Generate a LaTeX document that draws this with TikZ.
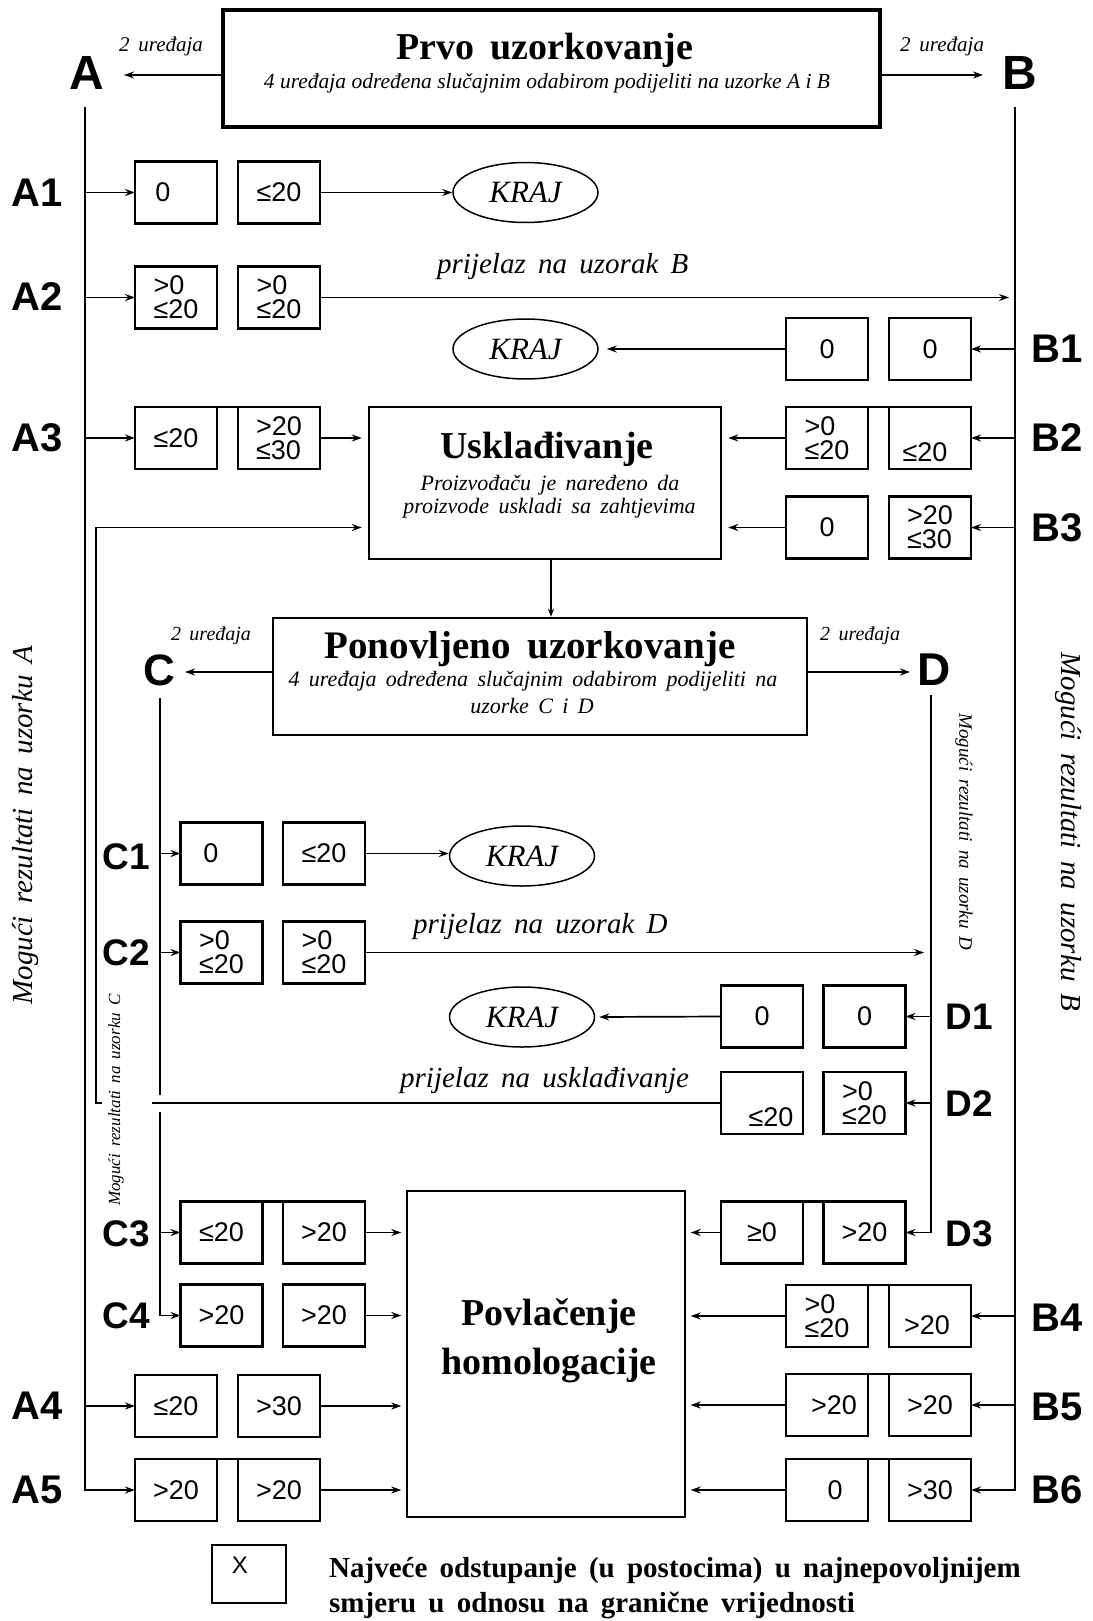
\documentclass[tikz,border=0pt]{standalone}
\usepackage{fontspec}
\setmainfont{Liberation Serif}[WordSpace=1.7]
\newfontfamily\plainserif{Liberation Serif}
\setsansfont{Liberation Sans}
\usetikzlibrary{arrows.meta,shapes.geometric}

\begin{document}
\begin{tikzpicture}[x=1pt,y=-1pt,
  arr/.style={-{Stealth[length=10pt,width=7pt]}, line width=1.7pt},
  ln/.style={line width=1.8pt},
  val/.style={draw, line width=2.3pt, minimum width=82pt, minimum height=62pt, inner sep=0pt, outer sep=0pt,
    font=\fontsize{27}{24}\selectfont\sffamily, align=left},
  num/.style={inner sep=0pt, font=\fontsize{27}{24}\selectfont\sffamily},
  lbl/.style={inner sep=0pt, font=\fontsize{40}{40}\selectfont\sffamily\bfseries},
  clbl/.style={inner sep=0pt, font=\fontsize{37}{37}\selectfont\sffamily\bfseries},
  big/.style={inner sep=0pt, font=\fontsize{48}{48}\selectfont\sffamily\bfseries},
  kraj/.style={draw, ellipse, line width=1.5pt, minimum width=145pt, minimum height=60pt,
    inner sep=0pt, font=\fontsize{31}{31}\selectfont\itshape},
  ttl/.style={inner sep=0pt, anchor=base, font=\fontsize{38}{38}\selectfont\bfseries},
  sub/.style={inner sep=0pt, anchor=base, font=\fontsize{22}{22}\selectfont\itshape},
  dev/.style={inner sep=0pt, anchor=base, font=\fontsize{21}{21}\selectfont\itshape},
  pass/.style={inner sep=0pt, anchor=base west, font=\fontsize{29}{29}\selectfont\itshape},
  side/.style={inner sep=0pt, font=\fontsize{29}{29}\selectfont\itshape},
  legtext/.style={inner sep=0pt, anchor=base west, font=\fontsize{29}{29}\selectfont\bfseries},
  bridge/.style={line width=2.3pt}
]
\fill[white] (0,0) rectangle (1092,1621);
\useasboundingbox (0,0) rectangle (1092,1621);

% ---------- first sampling ----------
\node[draw, line width=4pt, minimum width=657pt, minimum height=117pt, inner sep=0pt] (prvo) at (551.5,68.5) {};
\node[ttl] (prvoT) at (545,60) {Prvo uzorkovanje};
\node[sub, font=\fontsize{21.5}{22}\selectfont\plainserif\itshape] (prvoS) at (547,89) {4 uređaja određena slučajnim odabirom podijeliti na uzorke A i B};

\node[big] (Alab) at (87,73) {A};
\node[big] (Blab) at (1020,73) {B};
\coordinate (pA) at (124,75);
\coordinate (pB) at (983,75);
\draw[arr] (prvo.west |- pA) -- (pA);
\draw[arr] (prvo.east |- pB) -- (pB);
\node[dev] (devA) at (161,52) {2 uređaja};
\node[dev] (devB) at (942,52) {2 uređaja};

\coordinate (Atop) at (85,107);
\coordinate (Btop) at (1015,107);

% ---------- sample A results ----------
\node[val] (A1a) at (176,192.5) {};
\node[num] (A1at) at (163,192.5) {0};
\node[val] (A1b) at (279,192.5) {≤20};
\node[val] (A2a) at (176,297.5) {>0\\≤20};
\node[val] (A2b) at (279,297.5) {>0\\≤20};
\node[val] (A3a) at (176,438) {≤20};
\node[val] (A3b) at (279,438) {>20\\≤30};
\node[val] (A4a) at (176,1406) {≤20};
\node[val] (A4b) at (279,1406) {>30};
\node[val] (A5a) at (176,1490) {>20};
\node[val] (A5b) at (279,1490) {>20};

\node[lbl] (A1l) at (37,193) {A1};
\node[lbl] (A2l) at (37,297) {A2};
\node[lbl] (A3l) at (37,438) {A3};
\node[lbl] (A4l) at (37,1406) {A4};
\node[lbl] (A5l) at (37,1490) {A5};

% ---------- sample B results ----------
\node[val] (B1a) at (827,349) {0};
\node[val] (B1b) at (930,349) {0};
\node[val] (B2a) at (827,438) {>0\\≤20};
\node[val] (B2b) at (930,438) {};
\node[num] (B2bt) at (925,452) {≤20};
\node[val] (B3a) at (827,527.5) {0};
\node[val] (B3b) at (930,527.5) {>20\\≤30};
\node[val] (B4a) at (827,1316) {>0\\≤20};
\node[val] (B4b) at (930,1316) {};
\node[num] (B4bt) at (927,1325) {>20};
\node[val] (B5a) at (827,1405) {};
\node[num] (B5at) at (834,1405) {>20};
\node[val] (B5b) at (930,1405) {>20};
\node[val] (B6a) at (827,1490) {};
\node[num] (B6at) at (835,1490) {0};
\node[val] (B6b) at (930,1490) {>30};

\node[lbl] (B1l) at (1057,349) {B1};
\node[lbl] (B2l) at (1057,438) {B2};
\node[lbl] (B3l) at (1057,528) {B3};
\node[lbl] (B4l) at (1057,1318) {B4};
\node[lbl] (B5l) at (1057,1407) {B5};
\node[lbl] (B6l) at (1057,1490) {B6};

% ---------- end states ----------
\node[kraj] (k1) at (525.5,192.5) {KRAJ};
\node[kraj] (k2) at (525.5,349) {KRAJ};
\node[kraj] (k3) at (522,856) {KRAJ};
\node[kraj] (k4) at (522,1017) {KRAJ};

% ---------- adjustment ----------
\node[draw, line width=2.5pt, minimum width=352pt, minimum height=152pt, inner sep=0pt] (uskl) at (545,483) {};
\node[ttl] (usklT) at (547,458) {Usklađivanje};
\node[sub] (usklS1) at (550,490) {Proizvođaču je naređeno da};
\node[sub] (usklS2) at (549.5,513) {proizvode uskladi sa zahtjevima};

% ---------- repeated sampling ----------
\node[draw, line width=2.5pt, minimum width=534pt, minimum height=117pt, inner sep=0pt] (pon) at (540,676.5) {};
\node[ttl, font=\fontsize{39}{39}\selectfont\bfseries] (ponT) at (530,658) {Ponovljeno uzorkovanje};
\node[sub] (ponS1) at (533,686) {4 uređaja određena slučajnim odabirom podijeliti na};
\node[sub] (ponS2) at (532,713) {uzorke C i D};

\node[big, font=\fontsize{44}{44}\selectfont\sffamily\bfseries] (Clab) at (159,670) {C};
\node[big, font=\fontsize{46}{46}\selectfont\sffamily\bfseries] (Dlab) at (934,670) {D};
\coordinate (pC) at (185,672);
\coordinate (pD) at (910,672);
\draw[arr] (pon.west |- pC) -- (pC);
\draw[arr] (pon.east |- pD) -- (pD);
\node[dev, font=\fontsize{20}{20}\selectfont\itshape] (devC) at (211,640) {2 uređaja};
\node[dev, font=\fontsize{20}{20}\selectfont\itshape] (devD) at (860,640) {2 uređaja};

\coordinate (Ctop) at (160,698);
\coordinate (Dtop) at (931,695);

% ---------- sample C results ----------
\node[val] (C1a) at (221.5,853.5) {};
\node[num] (C1at) at (211,853.5) {0};
\node[val] (C1b) at (324,853.5) {≤20};
\node[val] (C2a) at (221.5,952.5) {>0\\≤20};
\node[val] (C2b) at (324,952.5) {>0\\≤20};
\node[val] (C3a) at (221.5,1232.5) {≤20};
\node[val] (C3b) at (324,1232.5) {>20};
\node[val] (C4a) at (221.5,1315.5) {>20};
\node[val] (C4b) at (324,1315.5) {>20};

\node[clbl] (C1l) at (126,857) {C1};
\node[clbl] (C2l) at (126,953) {C2};
\node[clbl] (C3l) at (126,1234) {C3};
\node[clbl] (C4l) at (126,1316) {C4};

% ---------- sample D results ----------
\node[val] (D1a) at (762,1016.5) {0};
\node[val] (D1b) at (864.5,1016.5) {0};
\node[val] (D2a) at (762,1103) {};
\node[num] (D2at) at (771,1117) {≤20};
\node[val] (D2b) at (864.5,1103) {>0\\≤20};
\node[val] (D3a) at (762,1232.5) {≥0};
\node[val] (D3b) at (864.5,1232.5) {>20};

\node[clbl] (D1l) at (969,1017) {D1};
\node[clbl] (D2l) at (969,1104) {D2};
\node[clbl] (D3l) at (969,1234) {D3};

% ---------- withdrawal ----------
\node[draw, line width=1.3pt, minimum width=278pt, minimum height=326pt, inner sep=0pt] (povl) at (546,1354) {};
\node[ttl] (povlT1) at (549,1325) {Povlačenje};
\node[ttl] (povlT2) at (549,1374) {homologacije};

% ---------- joined tops of some box pairs ----------
\foreach \r in {A3,A5,B2,B4,B5,B6,C3,D3}
  \draw[bridge] (\r a.north east) -- (\r b.north west);

% ---------- trunk lines and branches ----------
\draw[arr] (Atop) |- (A5a.west);
\foreach \r in {A1,A2,A3,A4}
  \draw[arr] (Atop |- \r a.west) -- (\r a.west);

\draw[arr] (Btop) |- (B6b.east);
\foreach \r in {B1,B2,B3,B4,B5}
  \draw[arr] (Btop |- \r b.east) -- (\r b.east);

\coordinate (Cgap1) at (160,1095);
\coordinate (Cgap2) at (160,1112);
\draw[ln] (Ctop) -- (Cgap1);
\draw[arr] (Cgap2) |- (C4a.west);
\foreach \r in {C1,C2,C3}
  \draw[arr] (Ctop |- \r a.west) -- (\r a.west);

\draw[arr] (Dtop) |- (D3b.east);
\foreach \r in {D1,D2}
  \draw[arr] (Dtop |- \r b.east) -- (\r b.east);

% ---------- outcome connectors ----------
\draw[arr] (A1b.east) -- (k1.west);
\draw[arr, shorten >=6pt] (A2b.east) -- (Btop |- A2b.east);
\node[pass] (passB) at (437,273) {prijelaz na uzorak B};
\draw[arr, shorten >=8pt] (B1a.west) -- (k2.east);
\draw[arr, shorten >=6pt] (A3b.east) -- (uskl.west |- A3b.east);
\draw[arr, shorten >=6pt] (B2a.west) -- (uskl.east |- B2a.west);
\draw[arr, shorten >=6pt] (B3a.west) -- (uskl.east |- B3a.west);
\draw[arr, line width=1.2pt, -{Stealth[length=8pt,width=6pt]}] ([xshift=6pt]uskl.south) -- ([xshift=6pt]uskl.south |- pon.north);

\draw[arr] (C1b.east) -- (k3.west |- C1b.east);
\draw[arr, shorten >=7pt] (C2b.east) -- (Dtop |- C2b.east);
\node[pass] (passD) at (413,933) {prijelaz na uzorak D};
\draw[arr, shorten >=4pt] (D1a.west) -- (k4.east);

% back to adjustment
\coordinate (fbR) at (152,1103);
\coordinate (fbL) at (102,1103);
\coordinate (fbC) at (96,1103);
\draw[ln] (D2a.west) -- (fbR);
\draw[arr, shorten >=6pt] (fbL) -- (fbC) |- (uskl.west |- B3a.west);
\node[pass] (passU) at (400,1087) {prijelaz na usklađivanje};

% into withdrawal
\foreach \r in {C3,C4,A4,A5}
  \draw[arr, shorten >=5pt] (\r b.east) -- (povl.west |- \r b.east);
\foreach \r in {D3,B4,B5,B6}
  \draw[arr, shorten >=5pt] (\r a.west) -- (povl.east |- \r a.west);

% ---------- side captions ----------
\node[side, rotate=90] (sideA) at (26,825) {Mogući rezultati na uzorku A};
\node[side, rotate=-90] (sideB) at (1068,832) {Mogući rezultati na uzorku B};
\node[side, rotate=-90, font=\fontsize{19}{19}\selectfont\itshape] (sideD) at (964,832) {Mogući rezultati na uzorku D};
\node[side, rotate=90, font=\fontsize{17}{17}\selectfont\itshape] (sideC) at (116,1100) {Mogući rezultati na uzorku C};

% ---------- legend ----------
\node[draw, line width=2pt, minimum width=74pt, minimum height=58pt, inner sep=0pt] (leg) at (249,1574) {};
\node[num, font=\fontsize{24}{24}\selectfont\sffamily] (legX) at (240,1565) {X};
\node[legtext] (legT1) at (329,1577) {Najveće odstupanje (u postocima) u najnepovoljnijem};
\node[legtext] (legT2) at (329,1612) {smjeru u odnosu na granične vrijednosti};
\end{tikzpicture}
\end{document}
